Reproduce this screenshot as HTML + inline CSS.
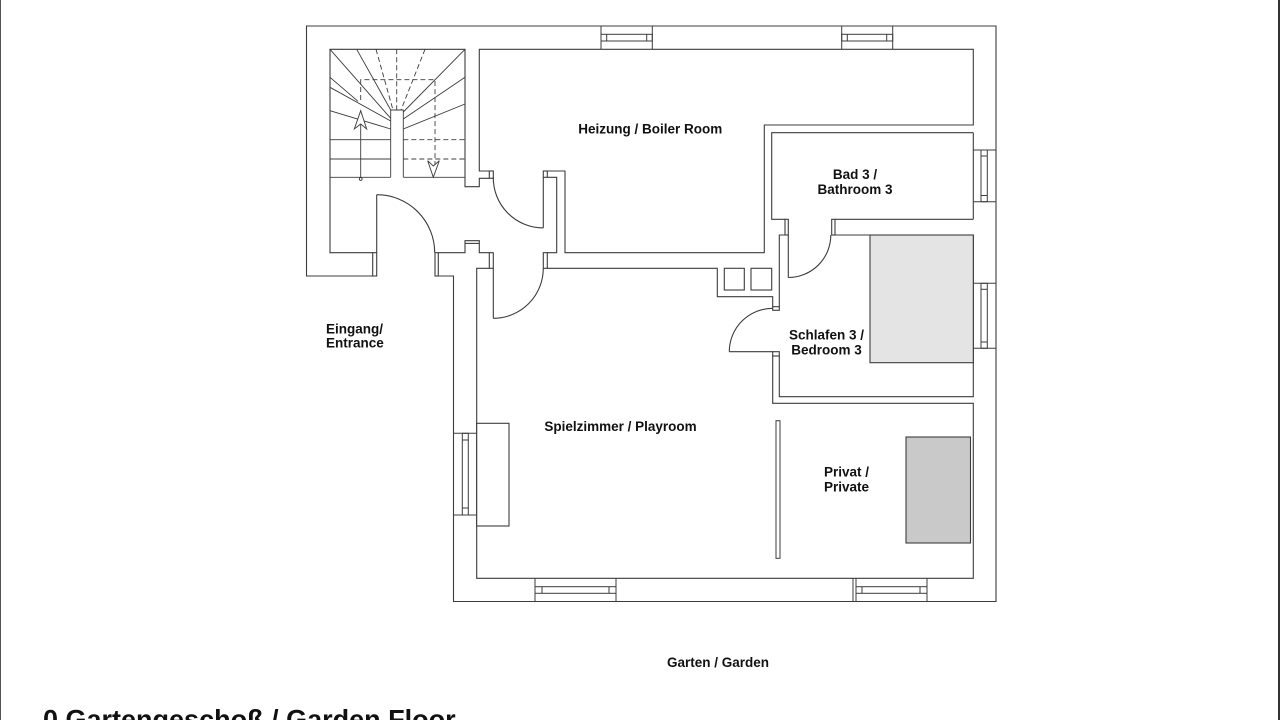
<!DOCTYPE html>
<html>
<head>
<meta charset="utf-8">
<style>
  html,body{margin:0;padding:0;background:#fff;}
  body{width:1280px;height:720px;overflow:hidden;position:relative;}
  svg{position:absolute;left:0;top:0;}
  .t{font-family:"Liberation Sans",Arial,sans-serif;font-weight:bold;fill:#111;}
</style>
</head>
<body>
<svg width="1280" height="720" viewBox="0 0 1280 720" xmlns="http://www.w3.org/2000/svg">
  <rect x="0" y="0" width="1280" height="720" fill="#ffffff"/>
  <!-- page frame edges -->
  <line x1="0.5" y1="0" x2="0.5" y2="720" stroke="#555" stroke-width="1"/>
  <line x1="1279" y1="0" x2="1279" y2="720" stroke="#333" stroke-width="2"/>

  <g fill="none" stroke="#3c3c3c" stroke-width="1.1">
    <!-- outer boundary -->
    <path d="M438.3,276 H453.5 V601.5 H996 V26 H306.5 V276 H372.7"/>
    <!-- entrance jambs -->
    <rect x="372.7" y="252.7" width="4" height="23.3"/>
    <rect x="435" y="252.7" width="3.3" height="23.3"/>
    <!-- entrance door -->
    <line x1="376.7" y1="194.7" x2="376.7" y2="252.7"/>
    <path d="M376.7,194.7 A58,58 0 0 1 434.7,252.7"/>

    <!-- stair room inner + hall -->
    <path d="M372.7,252.7 H330 V49.3 H465 V186.7 H479.3 V178.3 H489.3"/>
    <rect x="489.3" y="171" width="4" height="7.3"/>
    <!-- boiler room -->
    <path d="M489.3,171 H479.3 V49.3 H973.3 V125 H764.3 V252.7 H565 V171 H547.3"/>
    <rect x="543.3" y="171" width="4" height="6.3"/>
    <path d="M547.3,177.3 H556.7 V252.7 H547.3"/>
    <rect x="543.3" y="252.7" width="4" height="15.6"/>
    <!-- upper hall door -->
    <line x1="543.3" y1="177.3" x2="543.3" y2="227.9"/>
    <path d="M493.3,177.3 A50,50 0 0 0 543.3,227.9"/>

    <!-- playroom -->
    <path d="M547.3,268.3 H717.3 V296.7 H772.7 V306.7"/>
    <rect x="772.7" y="306.7" width="6.6" height="3.6"/>
    <rect x="772.7" y="351.7" width="6.6" height="4.3"/>
    <path d="M772.7,356 V403.3 H973.3 V578.3 H476.7 V268.3 H489.3"/>
    <rect x="489.3" y="252.7" width="4" height="15.6"/>
    <path d="M489.3,252.7 H479.3 V240.7 H465 V252.7 H438.3"/>
    <line x1="465" y1="243.4" x2="479.3" y2="243.4"/>
    <!-- lower hall door -->
    <line x1="493.3" y1="268.3" x2="493.3" y2="318.3"/>
    <path d="M493.3,318.3 A50,50 0 0 0 543.3,268.3"/>

    <!-- shafts -->
    <rect x="724.3" y="268.3" width="20" height="21.7"/>
    <rect x="751" y="268.3" width="20.7" height="21.7"/>

    <!-- bathroom -->
    <path d="M785,219.3 H771.7 V132.7 H973.3"/>
    <line x1="835" y1="219.3" x2="973.3" y2="219.3"/>
    <line x1="973.3" y1="132.7" x2="973.3" y2="219.3"/>
    <rect x="785" y="219.3" width="3.3" height="15.7"/>
    <rect x="831.7" y="219.3" width="3.3" height="15.7"/>
    <line x1="788.3" y1="235" x2="788.3" y2="277.5"/>
    <path d="M788.3,277.5 A42.5,42.5 0 0 0 830.8,235"/>
    <path d="M785,235 H779.3 V306.7"/>

    <!-- bedroom -->
    <path d="M835,235 H973.3 V396.7 H779.3 V356"/>
    <line x1="729.3" y1="351.7" x2="772.7" y2="351.7"/>
    <path d="M729.3,351.7 A43.4,43.4 0 0 1 772.7,308.3"/>
  </g>

  <!-- bed -->
  <rect x="870" y="235" width="103.3" height="127.7" fill="#e4e4e4" stroke="#3c3c3c" stroke-width="1.1"/>
  <!-- privat divider and box -->
  <rect x="776" y="420.7" width="4" height="137.6" fill="#fff" stroke="#3c3c3c" stroke-width="1"/>
  <rect x="906" y="437" width="64.5" height="106" fill="#c9c9c9" stroke="#3c3c3c" stroke-width="1.1"/>
  <!-- cabinet -->
  <rect x="476.7" y="423.3" width="32.3" height="102.7" fill="#fff" stroke="#3c3c3c" stroke-width="1.1"/>

  <!-- windows -->
  <g fill="none" stroke="#3c3c3c" stroke-width="1">
    <!-- top windows -->
    <line x1="601" y1="26" x2="601" y2="49.3"/><line x1="652.3" y1="26" x2="652.3" y2="49.3"/>
    <rect x="601" y="34.3" width="51.3" height="6.7"/>
    <line x1="606.7" y1="34.3" x2="606.7" y2="41"/><line x1="646.7" y1="34.3" x2="646.7" y2="41"/>
    <line x1="841.7" y1="26" x2="841.7" y2="49.3"/><line x1="892.7" y1="26" x2="892.7" y2="49.3"/>
    <rect x="841.7" y="34.3" width="51" height="6.7"/>
    <line x1="847.3" y1="34.3" x2="847.3" y2="41"/><line x1="886.7" y1="34.3" x2="886.7" y2="41"/>
    <!-- right windows -->
    <line x1="973.3" y1="150" x2="996" y2="150"/><line x1="973.3" y1="201.7" x2="996" y2="201.7"/>
    <rect x="981" y="150" width="6.3" height="51.7"/>
    <line x1="981" y1="156" x2="987.3" y2="156"/><line x1="981" y1="195.5" x2="987.3" y2="195.5"/>
    <line x1="973.3" y1="283.3" x2="996" y2="283.3"/><line x1="973.3" y1="348.3" x2="996" y2="348.3"/>
    <rect x="981" y="283.3" width="6.3" height="65"/>
    <line x1="981" y1="289.3" x2="987.3" y2="289.3"/><line x1="981" y1="342" x2="987.3" y2="342"/>
    <!-- left window -->
    <line x1="453.5" y1="433.3" x2="476.7" y2="433.3"/><line x1="453.5" y1="515" x2="476.7" y2="515"/>
    <rect x="462.3" y="433.3" width="6" height="81.7"/>
    <line x1="462.3" y1="440" x2="468.3" y2="440"/><line x1="462.3" y1="508" x2="468.3" y2="508"/>
    <!-- bottom windows -->
    <line x1="535" y1="578.3" x2="535" y2="601.5"/><line x1="616" y1="578.3" x2="616" y2="601.5"/>
    <rect x="535" y="586.7" width="81" height="6.6"/>
    <line x1="542" y1="586.7" x2="542" y2="593.3"/><line x1="609" y1="586.7" x2="609" y2="593.3"/>
    <line x1="853" y1="578.3" x2="853" y2="601.5"/><line x1="856" y1="578.3" x2="856" y2="601.5"/>
    <line x1="927" y1="578.3" x2="927" y2="601.5"/>
    <rect x="856" y="586.7" width="71" height="6.6"/>
    <line x1="862" y1="586.7" x2="862" y2="593.3"/><line x1="920" y1="586.7" x2="920" y2="593.3"/>
  </g>

  <!-- stairs -->
  <g fill="none" stroke="#3c3c3c" stroke-width="0.9">
    <!-- newel -->
    <path d="M390.7,177.3 V110 H403.3 V177.3"/>
    <!-- bottom step line -->
    <line x1="330" y1="177.3" x2="390.7" y2="177.3"/>
    <line x1="403.3" y1="177.3" x2="465" y2="177.3"/>
    <!-- left straight steps -->
    <line x1="330" y1="139.7" x2="390.7" y2="139.7"/>
    <line x1="330" y1="159" x2="390.7" y2="159"/>
    <!-- left winders -->
    <line x1="330" y1="49.3" x2="390.7" y2="118.3"/>
    <line x1="356.7" y1="49.3" x2="390.7" y2="110"/>
    <line x1="330" y1="77.3" x2="358" y2="101.3"/>
    <line x1="330" y1="87.3" x2="390.7" y2="121"/>
    <line x1="330" y1="110.7" x2="390.7" y2="129"/>
    <!-- right winders solid -->
    <line x1="465" y1="49.3" x2="403.3" y2="112"/>
    <line x1="465" y1="77.3" x2="403.3" y2="119"/>
    <line x1="465" y1="104" x2="403.3" y2="129"/>
  </g>
  <g fill="none" stroke="#3c3c3c" stroke-width="0.9" stroke-dasharray="5,3">
    <line x1="396.7" y1="49.3" x2="396.7" y2="110"/>
    <line x1="376" y1="49.3" x2="393" y2="110"/>
    <line x1="425" y1="49.3" x2="401" y2="110"/>
    <line x1="403.3" y1="139.7" x2="465" y2="139.7"/>
    <line x1="403.3" y1="159" x2="465" y2="159"/>
    <path d="M360.7,100 V79.7 H435 V166"/>
  </g>
  <g fill="#fff" stroke="#3c3c3c" stroke-width="0.9">
    <line x1="360.7" y1="124" x2="360.7" y2="179"/>
    <circle cx="360.7" cy="179" r="1.4"/>
    <polygon points="360.7,110.7 354.3,129 360.7,124 366.7,129"/>
    <polygon points="433.3,177.3 427.7,160.7 433.3,166 439.3,160.7"/>
  </g>

  <!-- labels -->
  <text class="t" x="578.3" y="133.5" font-size="13.5">Heizung / Boiler Room</text>
  <text class="t" x="855" y="179" font-size="13.5" text-anchor="middle">Bad 3 /</text>
  <text class="t" x="855" y="194" font-size="13.5" text-anchor="middle">Bathroom 3</text>
  <text class="t" x="826.5" y="339.3" font-size="13.5" text-anchor="middle">Schlafen 3 /</text>
  <text class="t" x="826.5" y="354.3" font-size="13.5" text-anchor="middle">Bedroom 3</text>
  <text class="t" x="620.5" y="431" font-size="13.5" text-anchor="middle">Spielzimmer / Playroom</text>
  <text class="t" x="846.5" y="476.7" font-size="13.5" text-anchor="middle">Privat /</text>
  <text class="t" x="846.5" y="491.7" font-size="13.5" text-anchor="middle">Private</text>
  <text class="t" x="326" y="333.3" font-size="13.5">Eingang/</text>
  <text class="t" x="326" y="347.7" font-size="13.5">Entrance</text>
  <text class="t" x="718" y="667" font-size="13.5" text-anchor="middle">Garten / Garden</text>
  <text class="t" x="43" y="728.6" font-size="27">0 Gartengeschoß / Garden Floor</text>
</svg>
</body>
</html>
